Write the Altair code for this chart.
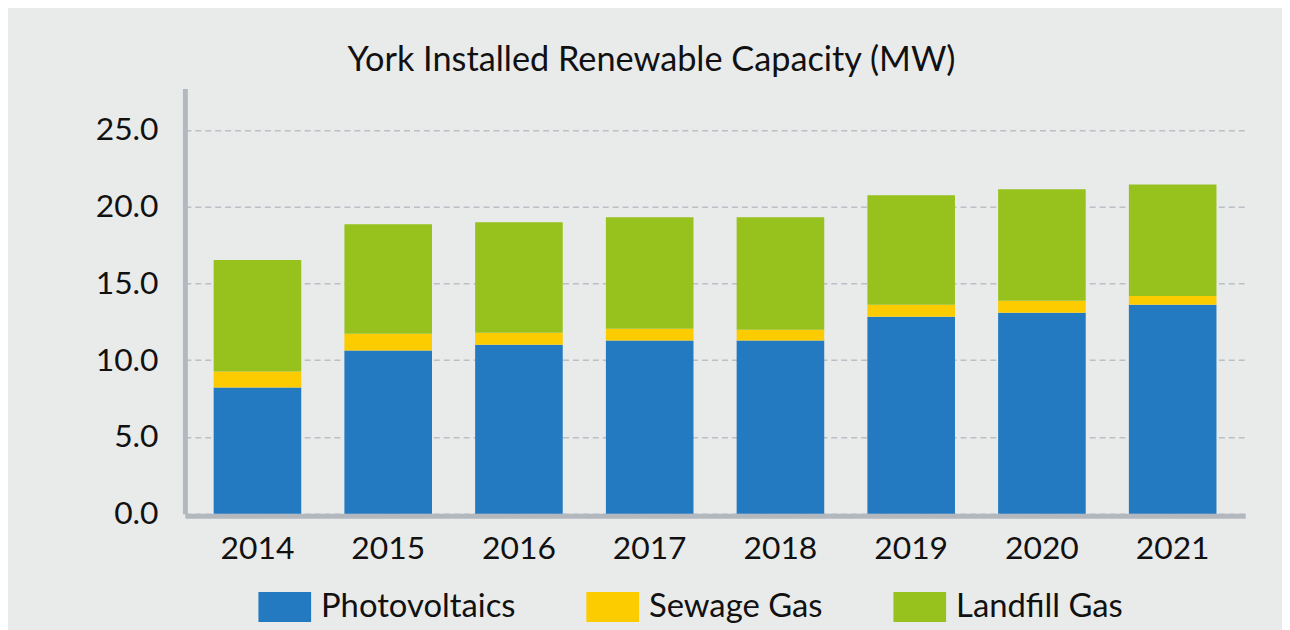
import altair as alt
import pandas as pd

years = ["2014", "2015", "2016", "2017", "2018", "2019", "2020", "2021"]
photovoltaics = [8.23, 10.63, 11.01, 11.28, 11.28, 12.83, 13.09, 13.61]
sewage_gas = [1.04, 1.10, 0.78, 0.77, 0.71, 0.78, 0.78, 0.58]
landfill_gas = [7.25, 7.12, 7.19, 7.26, 7.32, 7.13, 7.26, 7.26]

series_names = ["Photovoltaics", "Sewage Gas", "Landfill Gas"]
series_colors = ["#237ac1", "#fccb00", "#97c21e"]
y_ticks = [0, 5, 10, 15, 20, 25]

rows = []
for i, y in enumerate(years):
    for k, (name, vals) in enumerate(zip(series_names, [photovoltaics, sewage_gas, landfill_gas])):
        rows.append({"year": y, "source": name, "value": vals[i], "idx": k})
df = pd.DataFrame(rows)

FONT = "Lato"
BG = "#e9ebea"
AXIS_C = "#b3b8bf"

chart = (
    alt.Chart(df)
    .mark_bar()
    .encode(
        x=alt.X(
            "year:N",
            sort=years,
            scale=alt.Scale(paddingInner=0.33, paddingOuter=0.22),
            axis=alt.Axis(
                title=None,
                labelAngle=0,
                ticks=False,
                domain=True,
                domainColor=AXIS_C,
                domainWidth=5,
                offset=2,
                labelFont=FONT,
                labelFontSize=32,
                labelColor="#111111",
                labelPadding=18,
                grid=False,
            ),
        ),
        y=alt.Y(
            "value:Q",
            stack="zero",
            scale=alt.Scale(domain=[0, 27.7], nice=False),
            axis=alt.Axis(
                title=None,
                values=y_ticks,
                format=".1f",
                ticks=False,
                domain=True,
                domainColor=AXIS_C,
                domainWidth=5,
                grid=True,
                gridDash=[6, 4],
                gridColor="#bcc0c6",
                gridWidth=1.6,
                labelFont=FONT,
                labelFontSize=32,
                labelColor="#111111",
                labelPadding=27,
            ),
        ),
        color=alt.Color(
            "source:N",
            sort=series_names,
            scale=alt.Scale(domain=series_names, range=series_colors),
            legend=alt.Legend(
                title=None,
                orient="none",
                legendX=74,
                legendY=495,
                direction="horizontal",
                symbolType="M-1,-0.57L1,-0.57L1,0.57L-1,0.57Z",
                symbolSize=2809,
                symbolStrokeWidth=0,
                symbolOpacity=1,
                labelFont=FONT,
                labelFontSize=33,
                labelColor="#111111",
                labelOffset=10,
                labelLimit=400,
                columnPadding=71,
                padding=0,
            ),
        ),
        order=alt.Order("idx:Q", sort="ascending"),
    )
    .properties(
        width=1067,
        height=428,
        background=BG,
        autosize=alt.AutoSizeParams(type="none"),
        padding={"left": 178, "top": 79, "right": 37, "bottom": 115},
        title=alt.TitleParams(
            "York Installed Renewable Capacity (MW)",
            font=FONT,
            fontSize=34.5,
            fontWeight="normal",
            color="#111111",
            anchor="middle",
            dx=-64,
            offset=10,
        ),
    )
    .configure_view(stroke=None, fill=BG)
)

chart.save("out.html", embed_options={"renderer": "svg", "actions": False})
